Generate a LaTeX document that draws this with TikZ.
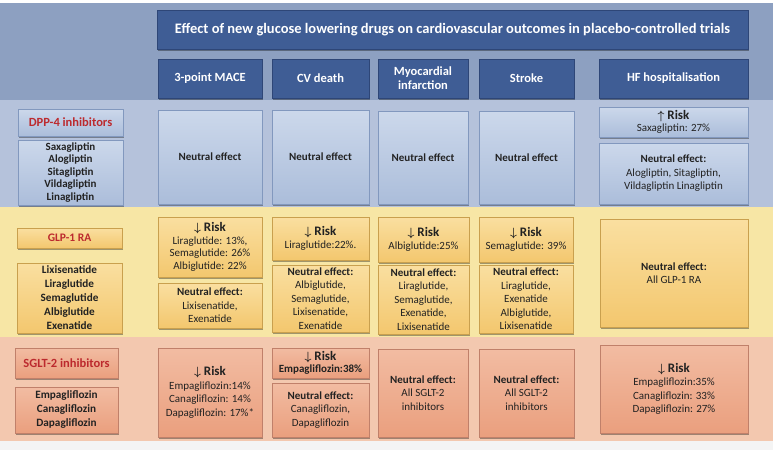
\documentclass[tikz,border=0pt]{standalone}
\usepackage{fontspec}
\setmainfont{Carlito}
\usepackage{tikz}
\usetikzlibrary{shadows}

\definecolor{bandhdr}{HTML}{8DA0C1}
\definecolor{banddpp}{HTML}{B5C2DB}
\definecolor{bandglp}{HTML}{F7E6A5}
\definecolor{bandsglt}{HTML}{F3C8AF}
\definecolor{bandfoot}{HTML}{F4F4F4}
\definecolor{hdrblue}{HTML}{3F5D95}
\definecolor{hdrline}{HTML}{2E4677}
\definecolor{dpptop}{HTML}{CCD8EB}
\definecolor{dppbot}{HTML}{ABBDDA}
\definecolor{dppline}{HTML}{8298BE}
\definecolor{glptop}{HTML}{FADFA0}
\definecolor{glpbot}{HTML}{F3C76E}
\definecolor{glpline}{HTML}{C9A04E}
\definecolor{sglttop}{HTML}{F2BCA2}
\definecolor{sgltbot}{HTML}{EA9F7E}
\definecolor{sgltline}{HTML}{C0806A}
\definecolor{drugred}{HTML}{BC2A2E}
\definecolor{txt}{HTML}{222222}

\newcommand{\dnrisk}{{\fontsize{13}{13.5}\selectfont\bfseries\boldmath$\downarrow$ Risk}}
\newcommand{\uprisk}{{\fontsize{13}{13.5}\selectfont\bfseries\boldmath$\uparrow$ Risk}}

\tikzset{
    cell/.style 2 args={minimum width=#1pt, minimum height=#2pt, inner sep=0pt, align=center,
        drop shadow={shadow xshift=1pt, shadow yshift=-1.5pt, opacity=.35, fill=black},
        text=txt, font=\fontsize{11}{13.5}\selectfont},
    hdr/.style={fill=hdrblue, draw=hdrline, text=white, font=\bfseries\fontsize{12.5}{14}\selectfont},
    dpp/.style={draw=dppline, top color=dpptop, bottom color=dppbot},
    glp/.style={draw=glpline, top color=glptop, bottom color=glpbot},
    sglt/.style={draw=sgltline, top color=sglttop, bottom color=sgltbot},
    classname/.style={text=drugred, font=\bfseries\fontsize{12.5}{14}\selectfont},
    druglist/.style={font=\bfseries\fontsize{11.2}{14}\selectfont}
}

\begin{document}
\begin{tikzpicture}[x=1pt,y=-1pt]
    \useasboundingbox (0,0) rectangle (773,450);
    \fill[white] (0,0) rectangle (773,3);
    \fill[bandhdr] (0,3) rectangle (773,100);
    \fill[banddpp] (0,100) rectangle (773,207);
    \fill[bandglp] (0,207) rectangle (773,337);
    \fill[bandsglt] (0,337) rectangle (773,441);
    \fill[bandfoot] (0,441) rectangle (773,450);

    \node (title) [cell={591}{39}, hdr, font=\bfseries\fontsize{14.5}{16}\selectfont] at (452.5,29.5) {Effect of new glucose lowering drugs on cardiovascular outcomes in placebo-controlled trials};
    \node (mace) [cell={104}{39}, hdr] at (210,78.5) {3-point MACE};
    \node (cvd) [cell={97}{39}, hdr] at (320.5,78.5) {CV death};
    \node (mi) [cell={90}{39}, hdr] at (423,78.5) {Myocardial\\infarction};
    \node (stroke) [cell={95}{39}, hdr] at (526.5,78.5) {Stroke};
    \node (hf) [cell={149}{39}, hdr] at (673.5,78.5) {HF hospitalisation};

    \node (dpplabel) [cell={105}{27}, dpp, classname] at (70.5,122.5) {DPP-4 inhibitors};
    \node (dpplist) [cell={105}{65}, dpp, druglist, font=\bfseries\fontsize{11}{12.5}\selectfont] at (70.5,172.5) {Saxagliptin\\Alogliptin\\Sitagliptin\\Vildagliptin\\Linagliptin};
    \node (dppmace) [cell={104}{94}, dpp] at (210,157) {\textbf{Neutral effect}};
    \node (dppcvd) [cell={97}{94}, dpp] at (320.5,157) {\textbf{Neutral effect}};
    \node (dppmi) [cell={90}{93}, dpp] at (423,157.5) {\textbf{Neutral effect}};
    \node (dppstroke) [cell={95}{93}, dpp] at (526.5,157.5) {\textbf{Neutral effect}};
    \node (dpphfrisk) [cell={149}{30}, dpp, font=\fontsize{11}{12}\selectfont] at (673.5,122) {\uprisk\\Saxagliptin: 27\%};
    \node (dpphfneut) [cell={149}{61}, dpp] at (673.5,173.5) {\textbf{Neutral effect:}\\Alogliptin, Sitagliptin,\\Vildagliptin Linagliptin};

    \node (glplabel) [cell={105}{20}, glp, classname, font=\bfseries\fontsize{11.5}{13}\selectfont] at (69.5,238) {GLP-1 RA};
    \node (glplist) [cell={105}{70}, glp, druglist] at (69.5,298) {Lixisenatide\\Liraglutide\\Semaglutide\\Albiglutide\\Exenatide};
    \node (glpmacerisk) [cell={104}{60}, glp, font=\fontsize{11}{12.5}\selectfont] at (210,247) {\dnrisk\\Liraglutide: 13\%,\\Semaglutide: 26\%\\Albiglutide: 22\%};
    \node (glpmaceneut) [cell={104}{45}, glp] at (210,305.5) {\textbf{Neutral effect:}\\Lixisenatide,\\Exenatide};
    \node (glpcvdrisk) [cell={97}{43}, glp] at (320.5,238.5) {\dnrisk\\Liraglutide:22\%.};
    \node (glpcvdneut) [cell={97}{67}, glp] at (320.5,298.5) {\textbf{Neutral effect:}\\Albiglutide,\\Semaglutide,\\Lixisenatide,\\Exenatide};
    \node (glpmirisk) [cell={91}{45}, glp] at (423.5,239.5) {\dnrisk\\Albiglutide:25\%};
    \node (glpmineut) [cell={91}{69}, glp] at (423.5,299.5) {\textbf{Neutral effect:}\\Liraglutide,\\Semaglutide,\\Exenatide,\\Lixisenatide};
    \node (glpstrokerisk) [cell={94}{45}, glp] at (526,239.5) {\dnrisk\\Semaglutide: 39\%};
    \node (glpstrokeneut) [cell={94}{68}, glp] at (526,299) {\textbf{Neutral effect:}\\Liraglutide,\\Exenatide\\Albiglutide,\\Lixisenatide};
    \node (glphf) [cell={148}{108}, glp] at (674,273) {\textbf{Neutral effect:}\\All GLP-1 RA};

    \node (sgltlabel) [cell={103}{30}, sglt, classname] at (66.5,363) {SGLT-2 inhibitors};
    \node (sgltlist) [cell={103}{46}, sglt, druglist] at (66.5,410) {Empagliflozin\\Canagliflozin\\Dapagliflozin};
    \node (sgltmace) [cell={104}{89}, sglt] at (210,392.5) {\dnrisk\\Empagliflozin:14\%\\Canagliflozin: 14\%\\Dapagliflozin: 17\%*};
    \node (sgltcvdrisk) [cell={97}{30}, sglt, font=\fontsize{11}{12}\selectfont] at (320.5,363) {\dnrisk\\\textbf{Empagliflozin:38\%}};
    \node (sgltcvdneut) [cell={97}{54}, sglt] at (320.5,410) {\textbf{Neutral effect:}\\Canagliflozin,\\Dapagliflozin};
    \node (sgltmi) [cell={90}{88}, sglt] at (423,393) {\textbf{Neutral effect:}\\All SGLT-2\\inhibitors};
    \node (sgltstroke) [cell={95}{88}, sglt] at (526.5,393) {\textbf{Neutral effect:}\\All SGLT-2\\inhibitors};
    \node (sglthf) [cell={148}{88}, sglt] at (674,389) {\dnrisk\\Empagliflozin:35\%\\Canagliflozin: 33\%\\Dapagliflozin: 27\%};
\end{tikzpicture}
\end{document}
